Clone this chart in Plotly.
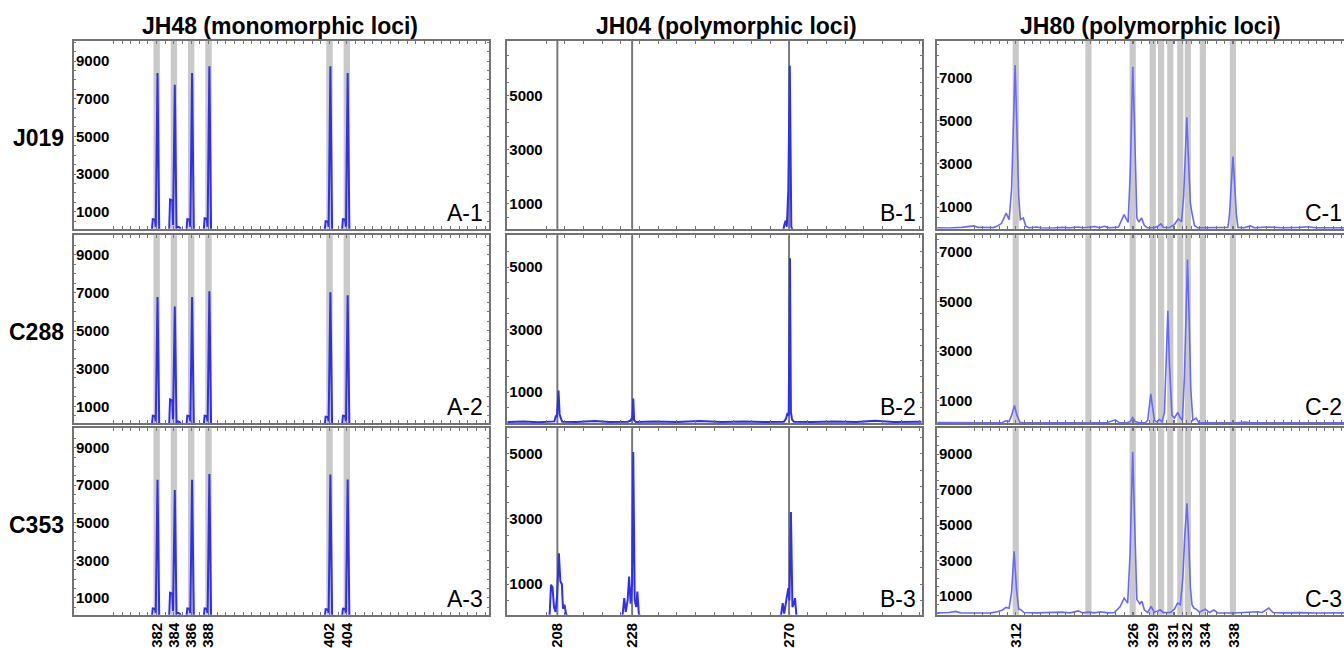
import plotly.graph_objects as go

W, H = 1344, 648

# ---------------- data ----------------
col_titles = ["JH48 (monomorphic loci)", "JH04 (polymorphic loci)", "JH80 (polymorphic loci)"]
row_labels = ["J019", "C288", "C353"]
panel_labels = [["A-1", "B-1", "C-1"], ["A-2", "B-2", "C-2"], ["A-3", "B-3", "C-3"]]

A_bins = [382, 384, 386, 388, 402, 404]
A_ticks = [382, 384, 386, 388, 402, 404]
A_ticktext = ["382", "384", "386", "388", "402", "404"]
B_bins = [208, 228, 270]
B_ticks = [208, 228, 270]
B_ticktext = ["208", "228", "270"]
C_bins = [312, 320.7, 326, 328.4, 329.4, 330.5, 331.7, 332.6, 334.4, 338]
C_ticks = [312, 326.1, 328.5, 330.9, 332.5, 334.7, 338.1]
C_ticktext = ["312", "326", "329", "331", "332", "334", "338"]

yticks_A = [1000, 3000, 5000, 7000, 9000]
yticks_B = [1000, 3000, 5000]
yticks_C12 = [1000, 3000, 5000, 7000]
yticks_C3 = [1000, 3000, 5000, 7000, 9000]

# traces: (size bp, RFU)
A1 = [(372.5, 0), (381.45, 0), (381.55, 600), (381.8, 580), (381.9, 200), (382.1, 8360), (382.3, 0),
      (383.45, 0), (383.55, 1650), (383.8, 1600), (383.9, 300), (384.1, 7740), (384.3, 150), (384.5, 200), (384.7, 150), (384.85, 0),
      (385.45, 0), (385.55, 600), (385.8, 580), (385.9, 200), (386.1, 8360), (386.3, 0),
      (387.45, 0), (387.55, 650), (387.8, 620), (387.9, 200), (388.1, 8720), (388.3, 0),
      (401.45, 0), (401.55, 500), (401.8, 480), (401.9, 200), (402.1, 8720), (402.3, 0),
      (403.45, 0), (403.55, 600), (403.8, 580), (403.9, 200), (404.1, 8360), (404.3, 0), (420.4, 0)]
A2 = [(372.5, 0), (381.45, 0), (381.55, 500), (381.8, 480), (381.9, 200), (382.1, 6780), (382.3, 0),
      (383.45, 0), (383.55, 1360), (383.8, 1300), (383.9, 300), (384.1, 6280), (384.3, 150), (384.5, 200), (384.7, 150), (384.85, 0),
      (385.45, 0), (385.55, 500), (385.8, 480), (385.9, 200), (386.1, 6780), (386.3, 0),
      (387.45, 0), (387.55, 500), (387.8, 480), (387.9, 200), (388.1, 7080), (388.3, 0),
      (401.45, 0), (401.55, 450), (401.8, 430), (401.9, 200), (402.1, 7030), (402.3, 0),
      (403.45, 0), (403.55, 500), (403.8, 480), (403.9, 200), (404.1, 6870), (404.3, 0), (420.4, 0)]
A3 = [(372.5, 0), (381.45, 0), (381.55, 440), (381.8, 420), (381.9, 200), (382.1, 7290), (382.3, 0),
      (383.45, 0), (383.55, 1280), (383.8, 1230), (383.9, 300), (384.1, 6750), (384.3, 150), (384.5, 200), (384.7, 150), (384.85, 0),
      (385.45, 0), (385.55, 440), (385.8, 420), (385.9, 200), (386.1, 7290), (386.3, 0),
      (387.45, 0), (387.55, 440), (387.8, 420), (387.9, 200), (388.1, 7590), (388.3, 0),
      (401.45, 0), (401.55, 400), (401.8, 380), (401.9, 200), (402.1, 7570), (402.3, 0),
      (403.45, 0), (403.55, 430), (403.8, 410), (403.9, 200), (404.1, 7300), (404.3, 0), (420.4, 0)]

B1 = [(194.6, 0), (268.4, 0), (268.8, 250), (269.1, 380), (269.4, 150), (269.8, 1500), (270.2, 6100),
      (270.45, 1200), (270.6, 150), (270.9, 50), (271.3, 0), (305.5, 0)]
B2 = [(194.6, 40), (199, 60), (203, 30), (206.5, 50), (207.2, 60), (207.6, 250), (207.9, 200), (208.3, 1050),
      (208.6, 300), (208.9, 170), (209.3, 50), (213, 40), (218, 70), (222, 40), (226.8, 50), (227.5, 80),
      (227.9, 150), (228.05, 100), (228.3, 790), (228.55, 100), (229, 40), (234, 60), (240, 40), (246, 70),
      (252, 40), (258, 60), (264, 40), (268.6, 50), (269.2, 150), (269.6, 330), (269.9, 250), (270.25, 5280),
      (270.5, 350), (270.8, 120), (271.3, 50), (276, 40), (282, 60), (288, 40), (293, 80), (298, 40), (305.5, 50)]
B3 = [(194.6, 0), (205.9, 0), (206.3, 980), (206.7, 900), (207.1, 300), (207.5, 150), (207.9, 600), (208.4, 1945),
      (208.8, 1080), (209.2, 1000), (209.5, 250), (209.9, 370), (210.3, 100), (210.7, 0),
      (225.4, 0), (225.9, 570), (226.3, 150), (226.8, 500), (227.2, 1230), (227.6, 400), (228.0, 1000), (228.3, 5050),
      (228.7, 500), (229.1, 300), (229.4, 770), (229.8, 100), (230.2, 0),
      (267.8, 0), (268.3, 420), (268.7, 100), (269.4, 600), (269.8, 880), (270.1, 500), (270.5, 3215),
      (270.9, 300), (271.3, 400), (271.6, 570), (272.0, 0), (305.5, 0)]

C1 = [(302.6, 40), (304.0, 30), (305.5, 60), (306.5, 90), (307.0, 130), (307.5, 60), (308.5, 40), (309.3, 50),
      (309.8, 120), (310.3, 250), (310.85, 720), (311.2, 420), (311.5, 1800), (311.7, 4600), (311.92, 7570),
      (312.14, 4600), (312.35, 1500), (312.55, 420), (312.9, 500), (313.2, 120), (313.6, 40), (314.5, 80),
      (315.0, 40), (316.5, 30), (317.5, 60), (318.5, 40), (319.5, 80), (320.0, 40), (320.8, 60), (321.5, 100),
      (322.0, 40), (322.6, 110), (323.2, 40), (324.3, 80), (324.97, 650), (325.45, 290), (325.7, 2500),
      (325.85, 5200), (326.01, 7490), (326.2, 5000), (326.35, 2000), (326.5, 490), (326.75, 300), (327.05, 500),
      (327.4, 150), (327.8, 40), (328.6, 50), (329.0, 110), (329.37, 220), (329.7, 60), (330.4, 50), (331.0, 200),
      (331.45, 450), (331.85, 330), (332.1, 1500), (332.3, 3600), (332.48, 5150), (332.7, 3000), (332.9, 1200),
      (333.1, 720), (333.4, 150), (333.8, 40), (335.0, 50), (336.5, 40), (337.4, 60), (337.6, 700), (337.8, 2100),
      (338.0, 3340), (338.2, 2100), (338.4, 700), (338.6, 60), (339.3, 40), (340.1, 130), (340.6, 40), (342.0, 80),
      (343.0, 60), (344.0, 40), (346.0, 60), (347.0, 90), (348.0, 40), (350.0, 60), (351.3, 40)]
C2 = [(302.6, 110), (304.5, 100), (306, 110), (308, 100), (309.5, 100), (310.4, 110), (310.8, 180), (311.2, 150),
      (311.5, 400), (311.84, 800), (312.15, 400), (312.5, 120), (313, 100), (315, 100), (317, 100), (319, 100),
      (321, 100), (323, 110), (323.9, 220), (324.4, 110), (325.3, 100), (325.7, 150), (326.0, 310), (326.3, 150),
      (326.8, 100), (327.5, 100), (327.8, 200), (328.0, 800), (328.17, 1275), (328.35, 800), (328.6, 200),
      (328.9, 130), (329.2, 240), (329.5, 140), (329.8, 500), (330.0, 2500), (330.21, 4625), (330.4, 2500),
      (330.7, 400), (331.0, 300), (331.4, 515), (331.7, 300), (331.95, 200), (332.2, 2000), (332.4, 5000),
      (332.56, 6700), (332.75, 4500), (332.95, 1500), (333.2, 200), (333.6, 290), (333.9, 110), (335, 100),
      (337, 100), (338.5, 100), (339.5, 130), (340, 100), (343, 100), (346, 100), (351.3, 100)]
C3 = [(302.6, 40), (304, 60), (304.8, 120), (305.4, 40), (307, 30), (309, 40), (309.8, 100), (310.4, 200),
      (310.85, 350), (311.2, 300), (311.5, 1200), (311.8, 3515), (312.1, 1300), (312.35, 250), (312.6, 220),
      (313.0, 60), (314.5, 40), (316, 50), (317.5, 80), (318.5, 40), (319.5, 150), (320.0, 40), (320.8, 80),
      (321.4, 40), (322.2, 100), (323.0, 40), (323.8, 60), (324.5, 400), (324.98, 870), (325.4, 590),
      (325.7, 3500), (325.85, 6500), (326.0, 9140), (326.15, 6500), (326.3, 3300), (326.5, 800), (326.65, 690),
      (326.85, 550), (327.1, 690), (327.4, 200), (327.8, 60), (328.2, 400), (328.6, 80), (329.3, 200), (329.7, 50),
      (330.5, 60), (331.0, 250), (331.37, 590), (331.7, 500), (332.0, 2000), (332.25, 4500), (332.5, 6230),
      (332.72, 4000), (332.9, 1500), (333.1, 500), (333.35, 300), (333.6, 250), (334.0, 80), (334.7, 250),
      (335.2, 60), (335.7, 200), (336.2, 40), (338, 30), (340, 50), (341.0, 100), (341.5, 60), (342.3, 310),
      (342.8, 60), (344, 40), (346, 50), (348, 30), (351.3, 40)]

traces = [[A1, B1, C1], [A2, B2, C2], [A3, B3, C3]]

# ---------------- layout geometry ----------------
xdom = [[74 / W, 489 / W], [507.3 / W, 921.7 / W], [937 / W, 1.0]]
ydom = [[1 - 228.7 / H, 1 - 40.7 / H], [1 - 423.3 / H, 1 - 235.3 / H], [1 - 614.8 / H, 1 - 428.3 / H]]
xr = [[372.44, 420.45], [194.6, 305.5], [302.57, 351.3]]
yr = [[[100, 10080], [80, 7030], [0, 8690]],
      [[100, 10040], [0, 6016], [80, 7680]],
      [[100, 10030], [60, 5780], [-70, 10460]]]
yt = [[yticks_A, yticks_B, yticks_C12], [yticks_A, yticks_B, yticks_C12], [yticks_A, yticks_B, yticks_C3]]
xt = [(A_ticks, A_ticktext, 1), (B_ticks, B_ticktext, 5), (C_ticks, C_ticktext, 1)]

FRAME = "#737373"
TICKFONT = dict(family="Liberation Sans, Arial", size=15, color="black", weight="bold")

fig = go.Figure()
layout = {}
shapes = []
annotations = []

for r in range(3):
    for c in range(3):
        i = r * 3 + c + 1
        sx = "" if i == 1 else str(i)
        pts = traces[r][c]
        fig.add_trace(go.Scatter(
            x=[p[0] for p in pts], y=[p[1] for p in pts], mode="lines",
            line=dict(color="#6868ff" if c == 2 else "#2f2ff2", width=1.6 if c == 2 else 2),
            xaxis="x" + sx, yaxis="y" + sx, showlegend=False, hoverinfo="skip"))
        tv, tt, mdt = xt[c]
        layout["xaxis" + sx] = dict(
            domain=xdom[c], range=xr[c], anchor="y" + sx, showgrid=False, zeroline=False,
            showline=True, linecolor=FRAME, linewidth=2, mirror="ticks",
            ticks="inside", ticklen=3, tickcolor=FRAME, tickwidth=1,
            tickvals=tv, ticktext=tt, tickangle=-90, tickfont=TICKFONT,
            showticklabels=(r == 2),
            minor=dict(dtick=mdt, tick0=0, ticks="inside", ticklen=3, tickcolor=FRAME, tickwidth=1),
        )
        layout["yaxis" + sx] = dict(
            domain=ydom[r], range=yr[r][c], anchor="x" + sx, showgrid=False, zeroline=False,
            showline=True, linecolor=FRAME, linewidth=2, mirror=("ticks" if c < 2 else False),
            ticks="inside", ticklen=2, tickcolor=FRAME, tickwidth=1,
            tickvals=yt[r][c], ticktext=[str(v) for v in yt[r][c]],
            ticklabelposition="inside", tickfont=TICKFONT,
            minor=dict(dtick=500, tick0=0, ticks="inside", ticklen=2, tickcolor=FRAME, tickwidth=1),
        )
        # allele bins
        if c == 0 or c == 2:
            for b in (A_bins if c == 0 else C_bins):
                shapes.append(dict(type="rect", xref="x" + sx, yref="y" + sx + " domain",
                                   x0=b - 0.37, x1=b + 0.37, y0=0, y1=1,
                                   fillcolor="#c9c9c9", line=dict(width=0), layer="below"))
        else:
            for b in B_bins:
                shapes.append(dict(type="line", xref="x" + sx, yref="y" + sx + " domain",
                                   x0=b, x1=b, y0=0, y1=1,
                                   line=dict(color="#7a7a7a", width=2), layer="below"))
        annotations.append(dict(text=panel_labels[r][c], xref="x" + sx + " domain", yref="y" + sx + " domain",
                                x=1, y=0, xanchor="right", yanchor="bottom",
                                xshift=(0 if c == 2 else -4), yshift=1, showarrow=False,
                                font=dict(family="Liberation Sans, Arial", size=23, color="black")))

title_x = [279.7, 726, 1150]
for c in range(3):
    annotations.append(dict(text=col_titles[c], xref="paper", yref="paper", x=title_x[c] / W, y=1 - 26 / H,
                            xanchor="center", yanchor="middle", showarrow=False,
                            font=dict(family="Liberation Sans, Arial", size=23, color="black", weight="bold")))
row_y = [137.7, 332, 524.5]
for r in range(3):
    annotations.append(dict(text=row_labels[r], xref="paper", yref="paper", x=66 / W, y=1 - row_y[r] / H,
                            xanchor="right", yanchor="middle", showarrow=False,
                            font=dict(family="Liberation Sans, Arial", size=23, color="black", weight="bold")))

fig.update_layout(width=W, height=H, margin=dict(l=0, r=0, t=0, b=0),
                  paper_bgcolor="white", plot_bgcolor="white",
                  shapes=shapes, annotations=annotations, **layout)

fig.write_html("out.html", config={"displayModeBar": False},
               post_script="document.body.style.margin='0';document.body.style.overflow='hidden';")
